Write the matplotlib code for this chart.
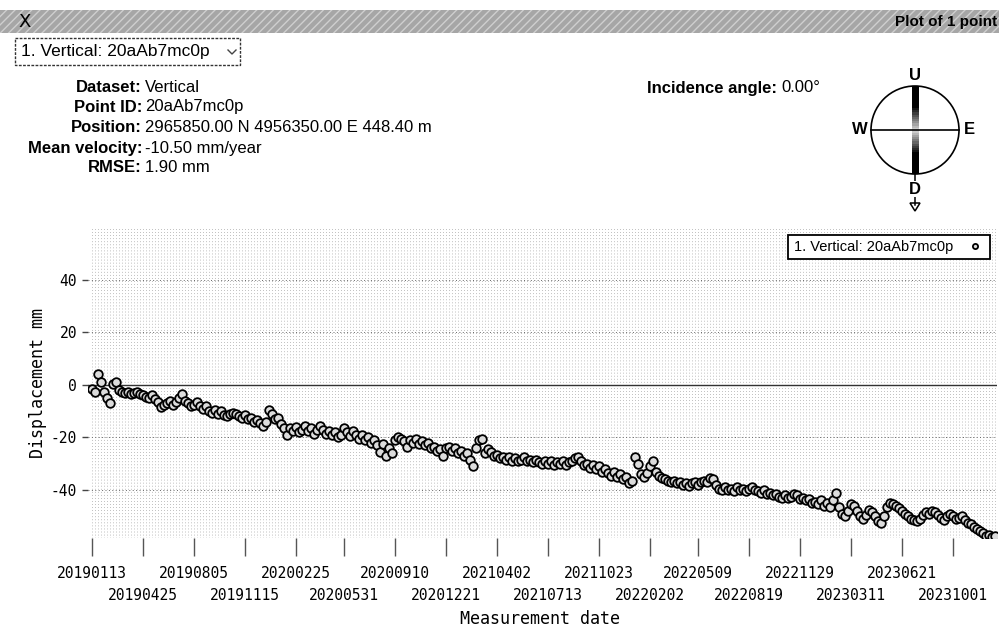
import matplotlib
matplotlib.use('Agg')
import matplotlib.pyplot as plt
import pandas as pd
from matplotlib.patches import Rectangle, Circle, Polygon

# ---------------- data ----------------
start_date = '2019-01-13'
step_days = 6
displacement_mm = [
    -1.5, -2.5, 4.0, 1.0, -2.5, -5.0, -7.0, 0.5, 1.0, -2.0,
    -2.5, -3.0, -2.5, -3.5, -3.0, -2.5, -3.5, -4.0, -4.5, -5.0,
    -4.0, -5.5, -6.5, -8.5, -7.5, -7.0, -6.0, -7.5, -6.5, -5.0,
    -3.5, -6.0, -7.0, -8.0, -7.5, -6.5, -8.0, -9.0, -8.0, -10.0,
    -10.5, -9.5, -11.0, -10.0, -11.5, -12.0, -11.0, -10.5, -11.0, -12.0,
    -12.5, -11.5, -13.0, -12.5, -14.0, -13.5, -14.5, -15.5, -14.0, -9.5,
    -11.0, -13.0, -12.5, -15.0, -16.5, -19.0, -16.5, -17.5, -16.0, -18.0,
    -17.0, -15.5, -17.5, -16.5, -18.5, -17.0, -15.5, -17.0, -18.5, -17.5,
    -19.0, -18.0, -20.0, -19.0, -16.5, -18.0, -19.5, -17.5, -19.0, -20.5,
    -19.0, -21.0, -20.0, -22.0, -21.0, -23.0, -25.5, -22.5, -27.0, -24.0,
    -26.0, -21.0, -20.0, -20.5, -21.5, -23.5, -21.0, -22.0, -20.5, -22.5,
    -21.5, -23.0, -22.0, -24.0, -23.5, -25.0, -24.5, -27.0, -24.0, -23.5,
    -25.0, -24.0, -26.0, -25.0, -27.0, -26.0, -28.5, -31.0, -24.0, -21.0,
    -20.5, -26.0, -24.5, -25.5, -27.0, -26.5, -28.0, -27.5, -28.5, -27.5,
    -29.0, -28.0, -29.0, -28.5, -27.5, -29.0, -28.5, -29.5, -28.5, -29.5,
    -30.0, -29.0, -30.0, -29.0, -30.5, -29.5, -30.0, -29.0, -30.5, -29.5,
    -29.0, -28.0, -27.5, -29.0, -30.5, -30.0, -31.5, -30.5, -32.0, -31.0,
    -33.0, -32.0, -33.5, -34.5, -33.0, -35.0, -34.0, -36.0, -35.0, -37.5,
    -36.5, -27.5, -30.0, -34.0, -35.0, -33.5, -31.0, -29.0, -33.0, -34.5,
    -35.5, -36.0, -36.5, -37.0, -36.5, -37.5, -37.0, -38.0, -37.5, -38.5,
    -37.5, -37.0, -38.0, -37.0, -36.5, -37.0, -35.5, -36.0, -38.0, -39.5,
    -40.0, -39.0, -40.0, -39.5, -40.5, -39.0, -40.0, -39.5, -40.5, -39.5,
    -39.0, -40.0, -40.5, -41.0, -40.0, -41.5, -41.0, -42.0, -41.5, -42.5,
    -43.0, -42.0, -43.0, -42.5, -41.5, -42.0, -43.5, -43.0, -44.0, -43.5,
    -45.0, -44.5, -45.5, -44.0, -46.0, -45.0, -46.5, -44.0, -41.0, -46.5,
    -49.0, -50.0, -48.0, -45.5, -46.0, -48.0, -50.0, -51.0, -49.5, -47.5,
    -48.5, -50.0, -52.0, -52.5, -50.0, -46.5, -45.0, -45.5, -46.0, -47.0,
    -48.0, -49.0, -50.0, -51.0, -51.5, -52.0, -51.0, -49.5, -48.5, -49.0,
    -48.0, -48.5, -49.5, -50.5, -51.5, -50.0, -49.0, -50.0, -51.0, -50.5,
    -50.0, -51.5, -52.5, -53.0, -54.0, -55.0, -55.5, -56.5, -57.5, -57.0,
    -58.0, -57.5,
]
tick_labels = ['20190113', '20190425', '20190805', '20191115', '20200225',
               '20200531', '20200910', '20201221', '20210402', '20210713',
               '20211023', '20220202', '20220509', '20220819', '20221129',
               '20230311', '20230621', '20231001']
y_ticks = [-40, -20, 0, 20, 40]
series_label = '1. Vertical: 20aAb7mc0p'
info_labels = ['Dataset:', 'Point ID:', 'Position:', 'Mean velocity:', 'RMSE:']
info_values = ['Vertical', '20aAb7mc0p', '2965850.00 N 4956350.00 E 448.40 m',
               '-10.50 mm/year', '1.90 mm']
incidence_label = 'Incidence angle:'
incidence_value = '0.00°'
window_title = 'Plot of 1 point'

dates = pd.date_range(start_date, periods=len(displacement_mm), freq=f'{step_days}D')
tick_dates = pd.to_datetime(tick_labels, format='%Y%m%d')

# ---------------- figure ----------------
W, H = 999, 629
fig = plt.figure(figsize=(W / 100, H / 100), dpi=100)
fig.patch.set_facecolor('white')

def fx(px):
    return px / W

def fy(py):
    return 1 - py / H

mono = 'DejaVu Sans Mono'
sans = 'Liberation Sans'

ax = fig.add_axes([fx(88), fy(538), fx(997) - fx(88), fy(228) - fy(538)])
ax.set_xlim(pd.Timestamp(start_date) - pd.Timedelta(days=8),
            pd.Timestamp(start_date) + pd.Timedelta(days=1810))
ax.set_ylim(-58.3, 59.8)
for s in ax.spines.values():
    s.set_visible(False)

# dense vertical dotted grid at acquisition dates
ax.vlines(dates, -58.3, 59.8, colors='#9a9a9a', linestyles=(0, (1, 3)), lw=0.55, zorder=1)
for yv in y_ticks:
    if yv == 0:
        ax.axhline(0, color='#333333', lw=1.0, zorder=2)
    else:
        ax.axhline(yv, color='#666666', lw=0.7, ls=(0, (1, 2.5)), zorder=2)

ax.plot(dates, displacement_mm, ls='none', marker='o', ms=6.2, mfc='#dcdcdc',
        mec='black', mew=1.3, label=series_label, zorder=3)

ax.set_yticks(y_ticks)
ax.set_yticklabels([str(v) for v in y_ticks], fontfamily=mono, fontsize=10.5)
ax.tick_params(axis='y', length=4, width=1, color='#444444', pad=4)

# two staggered rows of date labels: even ones as major ticks, odd ones as minor ticks
ax.set_xticks(tick_dates[0::2])
ax.set_xticklabels(tick_labels[0::2], fontfamily=mono, fontsize=10.5)
ax.set_xticks(tick_dates[1::2], minor=True)
ax.set_xticklabels(tick_labels[1::2], minor=True, fontfamily=mono, fontsize=10.5)
ax.tick_params(axis='x', which='major', length=13, width=1, color='#555555', pad=7)
ax.tick_params(axis='x', which='minor', length=13, width=1, color='#555555', pad=23)

leg = ax.legend(loc='upper right', bbox_to_anchor=(fx(990), fy(235)),
                bbox_transform=fig.transFigure, borderaxespad=0, markerfirst=False,
                frameon=True, fancybox=False, framealpha=1, edgecolor='black',
                prop={'family': sans, 'size': 10.5}, borderpad=0.35,
                handlelength=1.4, handletextpad=0.8, markerscale=0.6)
leg.get_frame().set_linewidth(1.3)

# ---------------- overlay (pixel coordinates) ----------------
ov = fig.add_axes([0, 0, 1, 1], zorder=10)
ov.set_xlim(0, W)
ov.set_ylim(H, 0)
ov.axis('off')
ov.patch.set_alpha(0)

ov.text(540, 619, 'Measurement date', fontfamily=mono, fontsize=12, ha='center', va='center')
ov.text(38, 383, 'Displacement mm', fontfamily=mono, fontsize=12, ha='center', va='center',
        rotation=90)

# title bar
ov.add_patch(Rectangle((0, 10), W, 23, facecolor='#a6a6a6', edgecolor='#cfcfcf',
                       hatch='////', lw=0))
ov.text(18, 22, 'X', fontfamily='DejaVu Sans', fontsize=13, ha='left', va='center', color='black')
ov.text(997, 22, window_title, fontfamily=sans, fontsize=11, fontweight='bold',
        ha='right', va='center')

# dropdown
ov.add_patch(Rectangle((15, 38), 225, 27, facecolor='white', edgecolor='#333333', lw=1,
                       ls=(0, (2, 1))))
ov.text(21, 51.5, series_label, fontfamily=sans, fontsize=12.5, ha='left', va='center')
ov.plot([228, 232, 236], [50, 54, 50], color='#444444', lw=1)

# info block
ys = [87, 107, 128, 148, 168]
for lab, val, yy in zip(info_labels, info_values, ys):
    ov.text(142, yy, lab, fontfamily=sans, fontsize=12, fontweight='bold', ha='right', va='center')
    ov.text(145, yy, val, fontfamily=sans, fontsize=12, ha='left', va='center')
ov.text(777, 88, incidence_label, fontfamily=sans, fontsize=12, fontweight='bold',
        ha='right', va='center')
ov.text(781, 88, incidence_value, fontfamily=sans, fontsize=12, ha='left', va='center')

# compass
cx, cy, r = 915, 130, 44
ov.add_patch(Circle((cx, cy), r, facecolor='none', edgecolor='black', lw=1.2))
ov.plot([cx - r, cx + r], [cy, cy], color='black', lw=1.2)
nseg = 20
for k in range(nseg):
    frac = k / nseg
    shade = str(min(0.85, max(0.0, (frac - 0.45) * 1.6)))
    ya = cy - r + frac * r
    ov.add_patch(Rectangle((cx - 3.5, ya), 7, r / nseg + 0.3, facecolor=shade, edgecolor='none'))
    yb = cy + r - frac * r - r / nseg
    ov.add_patch(Rectangle((cx - 3.5, yb), 7, r / nseg + 0.3, facecolor=shade, edgecolor='none'))
ov.text(cx, 75, 'U', fontfamily=sans, fontsize=12, fontweight='bold', ha='center', va='center')
ov.text(860, cy, 'W', fontfamily=sans, fontsize=12, fontweight='bold', ha='center', va='center')
ov.text(969, cy, 'E', fontfamily=sans, fontsize=12, fontweight='bold', ha='center', va='center')
ov.plot([cx, cx], [cy + r, 205], color='black', lw=1.1)
ov.text(cx, 189, 'D', fontfamily=sans, fontsize=12, fontweight='bold', ha='center', va='center',
        bbox=dict(facecolor='white', edgecolor='none', pad=0.5))
ov.add_patch(Polygon([[cx - 5, 203], [cx + 5, 203], [cx, 211]], closed=True,
                     facecolor='white', edgecolor='black', lw=1.1))

fig.savefig('out.png', dpi=100)
